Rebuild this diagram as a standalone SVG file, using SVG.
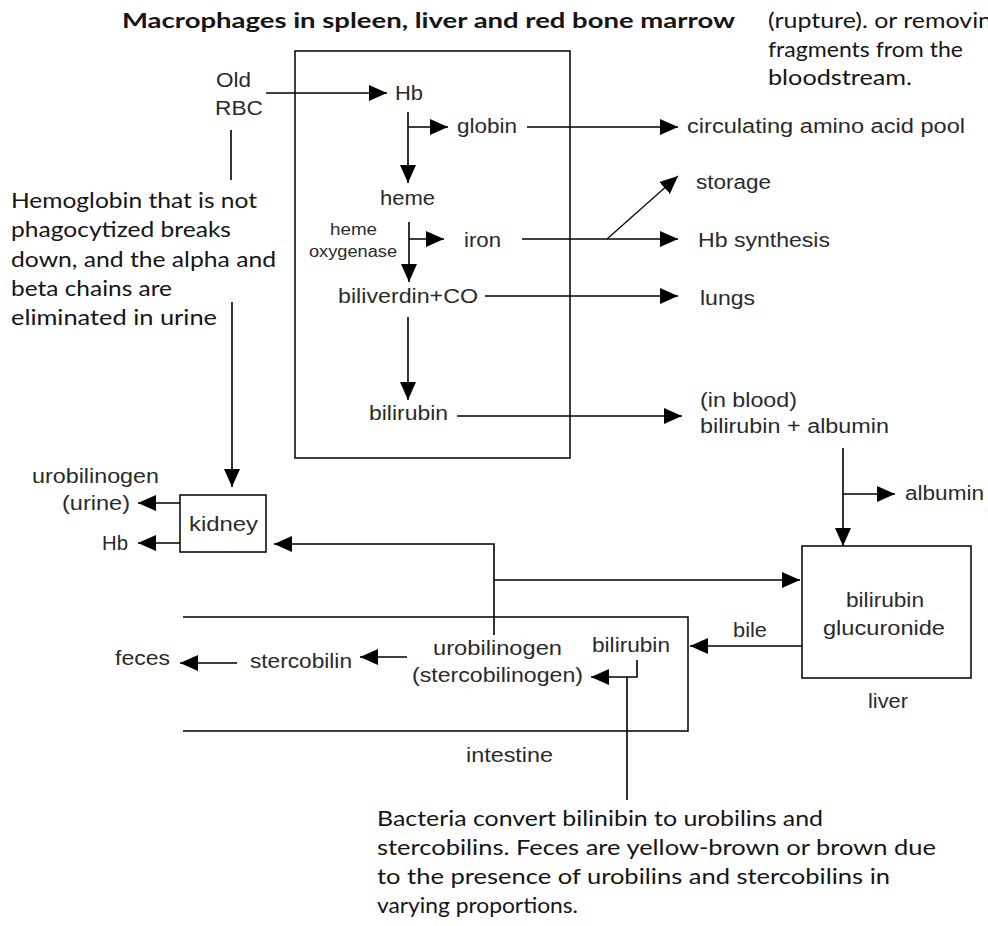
<svg xmlns="http://www.w3.org/2000/svg" width="988" height="926" viewBox="0 0 988 926">
<defs>
<marker id="ah" markerUnits="userSpaceOnUse" markerWidth="18" markerHeight="16" refX="18" refY="8" orient="auto">
<path d="M0,0 L18,8 L0,16 Z" fill="#000"/>
</marker>
<style>
.l{font-family:"Liberation Sans",Arial,sans-serif;font-size:20px;fill:#2a2a2a}
.s{font-size:16px}
.c{font-family:Lato,"Open Sans",sans-serif;font-size:21px;fill:#151515}
.t{font-weight:bold;font-size:20px}
.box{fill:none;stroke:#000;stroke-width:1.5}
.cn path{fill:none;stroke:#000;stroke-width:1.6}
.cn .a{marker-end:url(#ah)}
</style>
</defs>
<rect width="988" height="926" fill="#fff"/>

<g id="title"><text class="c t" x="122" y="28" textLength="613" lengthAdjust="spacingAndGlyphs">Macrophages in spleen, liver and red bone marrow</text></g>
<g id="note-top">
<text class="c" x="768" y="28" textLength="237" lengthAdjust="spacingAndGlyphs">(rupture). or removing</text>
<text class="c" x="768" y="57" textLength="195" lengthAdjust="spacingAndGlyphs">fragments from the</text>
<text class="c" x="768" y="85" textLength="144" lengthAdjust="spacingAndGlyphs">bloodstream.</text>
</g>

<g id="macrophage"><rect class="box" x="295" y="51" width="275" height="407"/></g>
<g id="old-rbc">
<text class="l" x="216" y="87" textLength="35" lengthAdjust="spacingAndGlyphs">Old</text>
<text class="l" x="215" y="115" textLength="48" lengthAdjust="spacingAndGlyphs">RBC</text>
</g>
<g id="hb"><text class="l" x="395" y="100" textLength="28" lengthAdjust="spacingAndGlyphs">Hb</text></g>
<g id="globin"><text class="l" x="457" y="133" textLength="60" lengthAdjust="spacingAndGlyphs">globin</text></g>
<g id="amino"><text class="l" x="687" y="133" textLength="278" lengthAdjust="spacingAndGlyphs">circulating amino acid pool</text></g>
<g id="heme"><text class="l" x="380" y="205" textLength="55" lengthAdjust="spacingAndGlyphs">heme</text></g>
<g id="heme-oxygenase">
<text class="l s" x="330" y="235" textLength="47" lengthAdjust="spacingAndGlyphs">heme</text>
<text class="l s" x="309" y="257" textLength="88" lengthAdjust="spacingAndGlyphs">oxygenase</text>
</g>
<g id="iron"><text class="l" x="464" y="247" textLength="37" lengthAdjust="spacingAndGlyphs">iron</text></g>
<g id="storage"><text class="l" x="696" y="189" textLength="75" lengthAdjust="spacingAndGlyphs">storage</text></g>
<g id="hb-synthesis"><text class="l" x="698" y="247" textLength="132" lengthAdjust="spacingAndGlyphs">Hb synthesis</text></g>
<g id="biliverdin"><text class="l" x="338" y="303" textLength="140" lengthAdjust="spacingAndGlyphs">biliverdin+CO</text></g>
<g id="lungs"><text class="l" x="700" y="305" textLength="55" lengthAdjust="spacingAndGlyphs">lungs</text></g>
<g id="bilirubin-m"><text class="l" x="369" y="420" textLength="79" lengthAdjust="spacingAndGlyphs">bilirubin</text></g>
<g id="blood">
<text class="l" x="700" y="407" textLength="97" lengthAdjust="spacingAndGlyphs">(in blood)</text>
<text class="l" x="700" y="433" textLength="189" lengthAdjust="spacingAndGlyphs">bilirubin + albumin</text>
</g>
<g id="albumin"><text class="l" x="905" y="500" textLength="79" lengthAdjust="spacingAndGlyphs">albumin</text></g>

<g id="hemoglobin-note">
<text class="c" x="11" y="208" textLength="246" lengthAdjust="spacingAndGlyphs">Hemoglobin that is not</text>
<text class="c" x="11" y="237" textLength="220" lengthAdjust="spacingAndGlyphs">phagocytized breaks</text>
<text class="c" x="11" y="267" textLength="265" lengthAdjust="spacingAndGlyphs">down, and the alpha and</text>
<text class="c" x="11" y="296" textLength="161" lengthAdjust="spacingAndGlyphs">beta chains are</text>
<text class="c" x="11" y="325" textLength="206" lengthAdjust="spacingAndGlyphs">eliminated in urine</text>
</g>

<g id="kidney">
<rect class="box" x="180" y="495" width="86" height="57"/>
<text class="l" x="189" y="531" textLength="69" lengthAdjust="spacingAndGlyphs">kidney</text>
</g>
<g id="urine">
<text class="l" x="32" y="483" textLength="127" lengthAdjust="spacingAndGlyphs">urobilinogen</text>
<text class="l" x="62" y="510" textLength="68" lengthAdjust="spacingAndGlyphs">(urine)</text>
</g>
<g id="hb-urine"><text class="l" x="102" y="550" textLength="26" lengthAdjust="spacingAndGlyphs">Hb</text></g>

<g id="liver">
<rect class="box" x="802" y="546" width="169" height="132"/>
<text class="l" x="846" y="607" textLength="78" lengthAdjust="spacingAndGlyphs">bilirubin</text>
<text class="l" x="823" y="635" textLength="122" lengthAdjust="spacingAndGlyphs">glucuronide</text>
<text class="l" x="868" y="708" textLength="40" lengthAdjust="spacingAndGlyphs">liver</text>
</g>
<g id="bile"><text class="l" x="733" y="637" textLength="34" lengthAdjust="spacingAndGlyphs">bile</text></g>

<g id="intestine">
<path class="box" d="M183,617 H688 V731 H183"/>
<text class="l" x="466" y="762" textLength="87" lengthAdjust="spacingAndGlyphs">intestine</text>
</g>
<g id="urobilinogen-i">
<text class="l" x="433" y="655" textLength="129" lengthAdjust="spacingAndGlyphs">urobilinogen</text>
<text class="l" x="412" y="682" textLength="171" lengthAdjust="spacingAndGlyphs">(stercobilinogen)</text>
</g>
<g id="bilirubin-i"><text class="l" x="592" y="652" textLength="78" lengthAdjust="spacingAndGlyphs">bilirubin</text></g>
<g id="stercobilin"><text class="l" x="250" y="668" textLength="102" lengthAdjust="spacingAndGlyphs">stercobilin</text></g>
<g id="feces"><text class="l" x="115" y="665" textLength="55" lengthAdjust="spacingAndGlyphs">feces</text></g>

<g id="bacteria-note">
<text class="c" x="377" y="826" textLength="446" lengthAdjust="spacingAndGlyphs">Bacteria convert bilinibin to urobilins and</text>
<text class="c" x="377" y="855" textLength="559" lengthAdjust="spacingAndGlyphs">stercobilins. Feces are yellow-brown or brown due</text>
<text class="c" x="377" y="884" textLength="513" lengthAdjust="spacingAndGlyphs">to the presence of urobilins and stercobilins in</text>
<text class="c" x="377" y="913" textLength="201" lengthAdjust="spacingAndGlyphs">varying proportions.</text>
</g>

<g id="connectors" class="cn">
<path class="a" d="M266,93 H387"/>
<path class="a" d="M408,112 V183"/>
<path class="a" d="M408,127 H448"/>
<path class="a" d="M527,127 H678"/>
<path class="a" d="M409,222 V282"/>
<path class="a" d="M409,239 H444"/>
<path class="a" d="M522,239 H678"/>
<path class="a" d="M607,239 L678,176" style="stroke-width:1.2"/>
<path class="a" d="M485,296 H678"/>
<path class="a" d="M408,317 V400"/>
<path class="a" d="M457,416 H682"/>
<path class="a" d="M843,448 V546"/>
<path class="a" d="M843,494 H895"/>
<path d="M231,130 V180"/>
<path class="a" d="M232,302 V487"/>
<path class="a" d="M180,503 H138"/>
<path class="a" d="M180,543 H138"/>
<path class="a" d="M494,635 V544 H274"/>
<path class="a" d="M494,580 H800"/>
<path class="a" d="M802,646 H690"/>
<path class="a" d="M637,660 V677 H591"/>
<path d="M627,677 V800"/>
<path class="a" d="M407,657 H360"/>
<path class="a" d="M237,663 H180"/>
</g>
</svg>
